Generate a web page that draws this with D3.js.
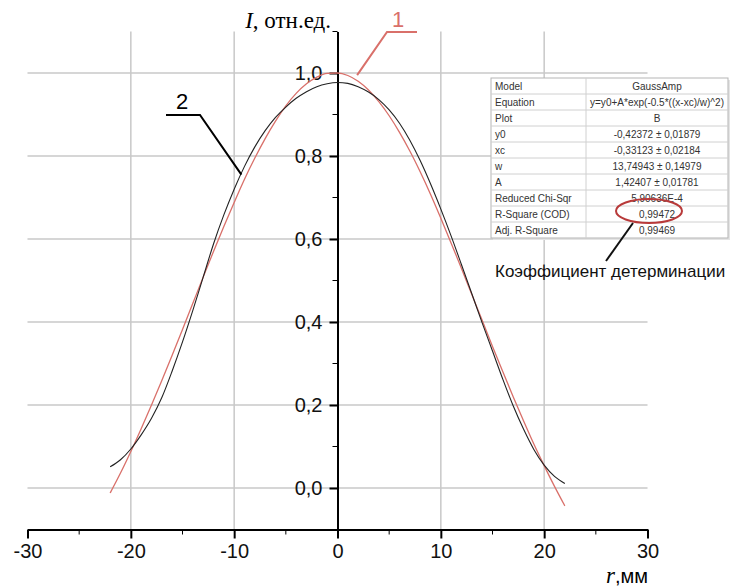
<!DOCTYPE html>
<html>
<head>
<meta charset="utf-8">
<script src="https://cdn.jsdelivr.net/npm/d3@7"></script>
<style>
  body { margin: 0; background: #fff; }
  svg { display: block; }
</style>
</head>
<body>
<div id="data-viz"></div>
<script>
// radius, mm
const rValues = [-22, -21, -20, -19, -18, -17, -16, -15, -14, -13, -12, -11, -10, -9, -8, -7, -6, -5, -4, -3, -2, -1,
  0, 1, 2, 3, 4, 5, 6, 7, 8, 9, 10, 11, 12, 13, 14, 15, 16, 17, 18, 19, 20, 21, 22];

// curve 1 (red, GaussAmp fit)
const fitValues = [-0.012, 0.036, 0.088, 0.143, 0.200, 0.259, 0.320, 0.382, 0.445, 0.508, 0.570, 0.630, 0.688,
  0.744, 0.795, 0.842, 0.884, 0.921, 0.951, 0.974, 0.990, 0.999, 1.000, 0.994, 0.980, 0.959, 0.931, 0.897, 0.857,
  0.812, 0.762, 0.708, 0.650, 0.590, 0.529, 0.466, 0.404, 0.341, 0.280, 0.220, 0.162, 0.106, 0.054, 0.004, -0.043];

// curve 2 (black, measured)
const measValues = [0.051, 0.068, 0.094, 0.128, 0.168, 0.218, 0.282, 0.352, 0.428, 0.508, 0.588, 0.658, 0.720,
  0.775, 0.822, 0.861, 0.893, 0.918, 0.939, 0.955, 0.967, 0.974, 0.977, 0.975, 0.967, 0.954, 0.936, 0.911, 0.879,
  0.838, 0.789, 0.733, 0.672, 0.607, 0.538, 0.468, 0.398, 0.330, 0.262, 0.198, 0.142, 0.093, 0.055, 0.028, 0.011];

const xTicks = [-30, -20, -10, 0, 10, 20, 30];
const xMinorTicks = [-25, -15, -5, 5, 15, 25];
const yTicks = [0, 0.2, 0.4, 0.6, 0.8, 1.0];
const yMinorTicks = [-0.1, 0.1, 0.3, 0.5, 0.7, 0.9, 1.1];

const tableLabels = ['Model', 'Equation', 'Plot', 'y0', 'xc', 'w', 'A', 'Reduced Chi-Sqr', 'R-Square (COD)', 'Adj. R-Square'];
const tableValues = ['GaussAmp', 'y=y0+A*exp(-0.5*((x-xc)/w)^2)', 'B', '-0,42372 ± 0,01879', '-0,33123 ± 0,02184',
  '13,74943 ± 0,14979', '1,42407 ± 0,01781', '5,90636E-4', '0,99472', '0,99469'];

const fmt = d => d3.format('.1f')(d).replace('.', ',');

const width = 735;
const height = 587;

const svg = d3.select('#data-viz')
  .append('svg')
  .attr('width', width)
  .attr('height', height)
  .style('font-family', "'Liberation Sans', Arial, sans-serif");

const x = d3.scaleLinear().domain([-30, 30]).range([27.5, 647.5]);
const y = d3.scaleLinear().domain([-0.1, 1.1]).range([529.5, 31.5]);

// grid
svg.append('g')
  .selectAll('line')
  .data(xTicks.filter(d => d !== 0 && Math.abs(d) !== 30))
  .enter()
  .append('line')
  .attr('x1', d => x(d)).attr('x2', d => x(d))
  .attr('y1', y(1.1)).attr('y2', y(-0.1))
  .style('stroke', '#c8c8c8')
  .style('stroke-width', 1.5);

svg.append('g')
  .selectAll('line')
  .data(yTicks)
  .enter()
  .append('line')
  .attr('x1', x(-30)).attr('x2', x(30))
  .attr('y1', d => y(d)).attr('y2', d => y(d))
  .style('stroke', '#c8c8c8')
  .style('stroke-width', 1.5);

// axes
const xAxis = svg.append('g')
  .attr('transform', 'translate(0,' + y(-0.1) + ')')
  .call(d3.axisBottom(x).tickValues(xTicks).tickFormat(d => String(d))
    .tickSize(9).tickSizeOuter(0).tickPadding(5));
xAxis.append('g')
  .selectAll('line')
  .data(xMinorTicks)
  .enter()
  .append('line')
  .attr('x1', d => x(d)).attr('x2', d => x(d))
  .attr('y1', 0).attr('y2', 5)
  .style('stroke', '#000');

const yAxis = svg.append('g')
  .attr('transform', 'translate(' + x(0) + ',0)')
  .call(d3.axisLeft(y).tickValues(yTicks).tickFormat(fmt).tickSize(8).tickSizeOuter(0).tickPadding(7));
yAxis.append('g')
  .selectAll('line')
  .data(yMinorTicks)
  .enter()
  .append('line')
  .attr('x1', -5).attr('x2', 0)
  .attr('y1', d => y(d)).attr('y2', d => y(d))
  .style('stroke', '#000');

svg.selectAll('.domain, .tick line').style('stroke', '#000').style('stroke-width', 2);
svg.selectAll('.tick text')
  .style('font-family', "'Liberation Sans', Arial, sans-serif")
  .style('font-size', '20px')
  .style('fill', '#111');

// curves
const line = vals => d3.line()
  .x((d, i) => x(rValues[i]))
  .y(d => y(d))
  .curve(d3.curveMonotoneX)(vals);

svg.append('path')
  .attr('d', line(fitValues))
  .style('fill', 'none')
  .style('stroke', '#d9706a')
  .style('stroke-width', 1.3);

svg.append('path')
  .attr('d', line(measValues))
  .style('fill', 'none')
  .style('stroke', '#222')
  .style('stroke-width', 1.1);

// curve labels with leaders
svg.append('polyline')
  .attr('points', [[x(1.9), y(0.995)], [387, 32], [417, 32]].join(' '))
  .style('fill', 'none')
  .style('stroke', '#d9706a')
  .style('stroke-width', 2);
svg.append('text')
  .attr('x', 398).attr('y', 27)
  .attr('text-anchor', 'middle')
  .style('font-size', '22px')
  .style('fill', '#d9706a')
  .text('1');

svg.append('polyline')
  .attr('points', [[x(-9.3), y(0.755)], [200, 115], [166, 115]].join(' '))
  .style('fill', 'none')
  .style('stroke', '#000')
  .style('stroke-width', 2);
svg.append('text')
  .attr('x', 182).attr('y', 109)
  .attr('text-anchor', 'middle')
  .style('font-size', '22px')
  .style('fill', '#000')
  .text('2');

// axis titles
const yTitle = svg.append('text')
  .attr('x', 331).attr('y', 28)
  .attr('text-anchor', 'end')
  .style('font-family', "'Liberation Serif', 'Times New Roman', serif")
  .style('font-size', '23px');
yTitle.append('tspan').style('font-style', 'italic').text('I');
yTitle.append('tspan').text(', отн.ед.');

const xTitle = svg.append('text')
  .attr('x', 648).attr('y', 583)
  .attr('text-anchor', 'end')
  .style('font-size', '20px');
xTitle.append('tspan')
  .style('font-family', "'Liberation Serif', 'Times New Roman', serif")
  .style('font-style', 'italic')
  .style('font-size', '23px')
  .text('r');
xTitle.append('tspan').text(',мм');

// fit results table
const tLeft = 491, tTop = 78, tRight = 728, tMid = 586, rowH = 16;
const table = svg.append('g');

table.append('rect')
  .attr('x', tLeft + 2).attr('y', tTop + 2)
  .attr('width', tRight - tLeft).attr('height', rowH * tableLabels.length)
  .style('fill', '#e4e4e4');
table.append('rect')
  .attr('x', tLeft).attr('y', tTop)
  .attr('width', tRight - tLeft).attr('height', rowH * tableLabels.length)
  .style('fill', '#fff')
  .style('stroke', '#b5b5b5');

table.selectAll('.row-line')
  .data(tableLabels.slice(1))
  .enter()
  .append('line')
  .attr('x1', tLeft).attr('x2', tRight)
  .attr('y1', (d, i) => tTop + rowH * (i + 1)).attr('y2', (d, i) => tTop + rowH * (i + 1))
  .style('stroke', '#d0d0d0');

table.append('line')
  .attr('x1', tMid).attr('x2', tMid)
  .attr('y1', tTop).attr('y2', tTop + rowH * tableLabels.length)
  .style('stroke', '#d0d0d0');

table.selectAll('.lbl')
  .data(tableLabels)
  .enter()
  .append('text')
  .attr('x', tLeft + 4)
  .attr('y', (d, i) => tTop + rowH * i + 12)
  .style('font-size', '10px')
  .style('fill', '#333')
  .text(d => d);

table.selectAll('.val')
  .data(tableValues)
  .enter()
  .append('text')
  .attr('x', (tMid + tRight) / 2)
  .attr('y', (d, i) => tTop + rowH * i + 12)
  .attr('text-anchor', 'middle')
  .style('font-size', '10px')
  .style('fill', '#333')
  .attr('textLength', d => d.length > 20 ? 134 : null)
  .attr('lengthAdjust', 'spacingAndGlyphs')
  .text(d => d);

// highlight of the R-Square value
svg.append('ellipse')
  .attr('cx', 649).attr('cy', 211)
  .attr('rx', 33).attr('ry', 12)
  .style('fill', 'none')
  .style('stroke', '#b83a3a')
  .style('stroke-width', 2);

svg.append('line')
  .attr('x1', 633).attr('y1', 223)
  .attr('x2', 606).attr('y2', 261)
  .style('stroke', '#111')
  .style('stroke-width', 2);

svg.append('text')
  .attr('x', 495).attr('y', 277)
  .style('font-size', '17px')
  .style('fill', '#111')
  .text('Коэффициент детерминации');
</script>
</body>
</html>
